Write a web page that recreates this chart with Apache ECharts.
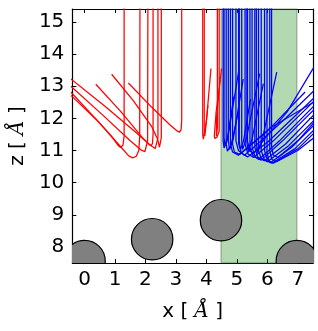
<!DOCTYPE html>
<html>
<head>
<meta charset="utf-8">
<script src="https://cdn.jsdelivr.net/npm/echarts@6/dist/echarts.min.js"></script>
<style>html,body{margin:0;padding:0;background:#fff}#c{width:318px;height:331px}</style>
</head>
<body>
<div id="c"></div>
<script>
// ---- data ----
const xTicks = [0, 1, 2, 3, 4, 5, 6, 7];
const yTicks = [8, 9, 10, 11, 12, 13, 14, 15];
const xRange = [-0.4, 7.5];
const yRange = [7.5, 15.4];
const bandRange = [4.48, 6.97];
const atomX = [0.0, 2.22, 4.48, 6.97];
const atomY = [7.56, 8.24, 8.83, 7.56];
const atomR = 0.68;

const redPaths = [
  [[-0.6,12.85],[0.4,11.95],[0.9,11.42],[1.1,11.16],[1.18,11.09],[1.26,11.16],[1.30,11.45],[1.30,15.6]],
  [[-0.6,12.97],[0.5,11.85],[1.2,11.1],[1.45,10.83],[1.58,10.77],[1.70,10.82],[1.78,11.0],[1.81,11.4],[1.82,15.6]],
  [[-0.6,13.13],[0.6,12.1],[1.5,11.3],[1.85,11.02],[1.98,10.96],[2.04,11.02],[2.07,11.3],[2.08,15.6]],
  [[-0.6,13.34],[0.7,12.35],[1.7,11.55],[2.15,11.17],[2.32,11.06],[2.38,11.12],[2.41,11.4],[2.41,15.6]],
  [[0.37,13.06],[1.2,12.2],[1.9,11.4],[2.12,11.19],[2.19,11.15],[2.23,11.22],[2.25,11.5],[2.25,15.6]],
  [[0.89,13.37],[1.6,12.55],[2.2,11.75],[2.40,11.35],[2.46,11.1],[2.50,11.12],[2.52,11.4],[2.52,15.6]],
  [[1.44,13.10],[2.2,12.35],[2.8,11.8],[3.05,11.6],[3.12,11.57],[3.17,11.65],[3.19,11.95],[3.19,15.6]],
  [[3.88,15.6],[3.88,11.5],[3.90,11.35],[3.93,11.38],[4.0,11.9],[4.15,13.55]],
  [[3.93,15.6],[3.93,11.6],[3.95,11.45],[3.98,11.5],[4.05,12.4]],
  [[4.42,15.6],[4.42,11.6],[4.35,11.42],[4.28,11.37],[4.26,11.45],[4.32,12.2],[4.50,13.55]],
  [[4.36,15.6],[4.36,11.7],[4.33,11.45],[4.30,11.42],[4.29,11.5],[4.33,12.0],[4.45,13.2]]
];

const bluePaths = [
  // short, steep rebounds
  [[4.55,15.6],[4.55,11.3],[4.58,11.08],[4.62,11.05],[4.68,11.3],[4.90,12.67]],
  [[4.58,15.6],[4.58,11.4],[4.61,11.15],[4.64,11.1],[4.72,11.5],[5.06,13.46]],
  [[4.72,15.6],[4.72,11.3],[4.76,11.03],[4.80,11.0],[4.88,11.35],[5.21,13.22]],
  [[5.08,15.6],[5.08,11.3],[5.12,11.03],[5.15,11.0],[5.22,11.3],[5.45,12.6]],
  [[5.16,15.6],[5.16,11.3],[5.19,11.03],[5.22,11.0],[5.32,11.4],[5.75,13.39]],
  [[5.33,15.6],[5.33,11.25],[5.37,10.98],[5.40,10.95],[5.50,11.35],[5.87,13.08]],
  [[5.64,15.6],[5.64,11.2],[5.68,10.93],[5.72,10.9],[5.84,11.35],[6.31,13.44]],
  [[4.65,15.6],[4.65,11.2],[4.69,10.98],[4.73,10.95],[4.82,11.2],[5.05,12.2]],
  // long, shallow rebounds
  [[5.35,15.6],[5.35,11.3],[5.42,11.0],[5.55,10.9],[5.96,11.42],[6.65,12.2],[7.6,13.7]],
  [[4.97,15.6],[4.97,11.3],[5.05,11.0],[5.25,10.85],[5.8,11.3],[6.6,12.0],[7.6,12.92]],
  [[5.06,15.6],[5.06,11.2],[5.15,10.92],[5.35,10.8],[6.0,11.25],[7.6,12.7]],
  [[5.27,15.6],[5.27,11.2],[5.36,10.9],[5.55,10.78],[6.2,11.3],[7.6,12.6]],
  [[5.43,15.6],[5.43,11.1],[5.52,10.85],[5.72,10.72],[6.4,11.3],[7.6,12.45]],
  [[5.50,15.6],[5.50,11.1],[5.6,10.8],[5.8,10.7],[6.5,11.3],[7.6,12.33]],
  [[5.59,15.6],[5.59,11.1],[5.68,10.8],[5.9,10.68],[6.6,11.2],[7.6,12.18]],
  [[5.71,15.6],[5.71,11.0],[5.8,10.75],[6.0,10.65],[6.7,11.15],[7.6,12.0]],
  [[5.80,15.6],[5.80,11.0],[5.9,10.72],[6.1,10.62],[6.8,11.1],[7.6,11.85]],
  [[5.91,15.6],[5.91,11.0],[6.0,10.7],[6.15,10.6],[6.9,11.05],[7.6,11.7]],
  [[5.99,15.6],[5.99,10.95],[6.05,10.68],[6.2,10.6],[7.0,11.05],[7.6,11.6]],
  [[6.08,15.6],[6.08,11.0],[6.15,10.72],[6.3,10.65],[7.0,11.0],[7.6,11.45]],
  [[4.79,15.6],[4.79,11.2],[4.86,10.95],[5.05,10.85],[6.0,11.6],[7.24,12.82]],
  [[4.86,15.6],[4.86,11.2],[4.92,10.95],[5.1,10.88],[6.1,11.7],[7.6,12.55]],
  [[6.14,15.6],[6.14,11.1],[6.2,10.85],[6.35,10.78],[7.0,11.3],[7.6,11.94]]
];

// ---- chart ----
const chart = echarts.init(document.getElementById('c'), null, {renderer: 'canvas'});
const font = 'DejaVu Sans';
function xAx(pos, labels) {
  return {
    type: 'value', position: pos, min: xRange[0], max: xRange[1],
    axisLine: {show: true, onZero: false, lineStyle: {color: '#000', width: 1.2}},
    axisTick: {show: true, inside: true, length: 4, customValues: xTicks, lineStyle: {color: '#000'}},
    axisLabel: {show: labels, customValues: xTicks, color: '#000', fontSize: 20, fontFamily: font, margin: 7},
    splitLine: {show: false}
  };
}
function yAx(pos, labels) {
  return {
    type: 'value', position: pos, min: yRange[0], max: yRange[1],
    axisLine: {show: true, onZero: false, lineStyle: {color: '#000', width: 1.2}},
    axisTick: {show: true, inside: true, length: 4, customValues: yTicks, lineStyle: {color: '#000'}},
    axisLabel: {show: labels, customValues: yTicks, color: '#000', fontSize: 20, fontFamily: font, margin: 8},
    splitLine: {show: false}
  };
}
const xa0 = xAx('bottom', true);
xa0.name = 'x [ {a|Å} ]';
xa0.nameLocation = 'middle';
xa0.nameGap = 39;
xa0.nameTextStyle = {color: '#000', fontSize: 20, fontFamily: font,
  rich: {a: {fontFamily: 'DejaVu Serif', fontStyle: 'italic', fontSize: 20, color: '#000'}}};
const ya0 = yAx('left', true);
ya0.name = 'z [ {a|Å} ]';
ya0.nameLocation = 'middle';
ya0.nameGap = 41;
ya0.nameTextStyle = {color: '#000', fontSize: 20, fontFamily: font,
  rich: {a: {fontFamily: 'DejaVu Serif', fontStyle: 'italic', fontSize: 20, color: '#000'}}};

const series = [];
// shaded band
series.push({
  type: 'line', data: [], xAxisIndex: 0, yAxisIndex: 0, z: 1,
  markArea: {silent: true,
    itemStyle: {color: 'rgba(0,128,0,0.3)', borderColor: 'rgba(60,90,60,0.35)', borderWidth: 1.5},
    data: [[{xAxis: bandRange[0]}, {xAxis: bandRange[1]}]]}
});
function addPaths(paths, color) {
  paths.forEach(p => series.push({
    type: 'line', data: p, showSymbol: false, symbol: 'none', clip: true, z: 3,
    lineStyle: {color: color, width: 1.25}, silent: true
  }));
}
addPaths(redPaths, '#ff0000');
addPaths(bluePaths, '#0000ff');
// atoms
series.push({
  type: 'custom', clip: true, z: 4, silent: true,
  data: atomX.map((x, i) => [x, atomY[i]]),
  renderItem: function (params, api) {
    const c = api.coord([api.value(0), api.value(1)]);
    const r = api.size([atomR, 0])[0];
    return {type: 'circle', shape: {cx: c[0], cy: c[1], r: r},
      style: {fill: '#808080', stroke: '#000', lineWidth: 1.2}};
  }
});

chart.setOption({
  animation: false,
  backgroundColor: '#fff',
  grid: {left: 66, right: 5, top: 9, bottom: 68, containLabel: false},
  xAxis: [xa0, xAx('top', false)],
  yAxis: [ya0, yAx('right', false)],
  series: series
});
</script>
</body>
</html>
